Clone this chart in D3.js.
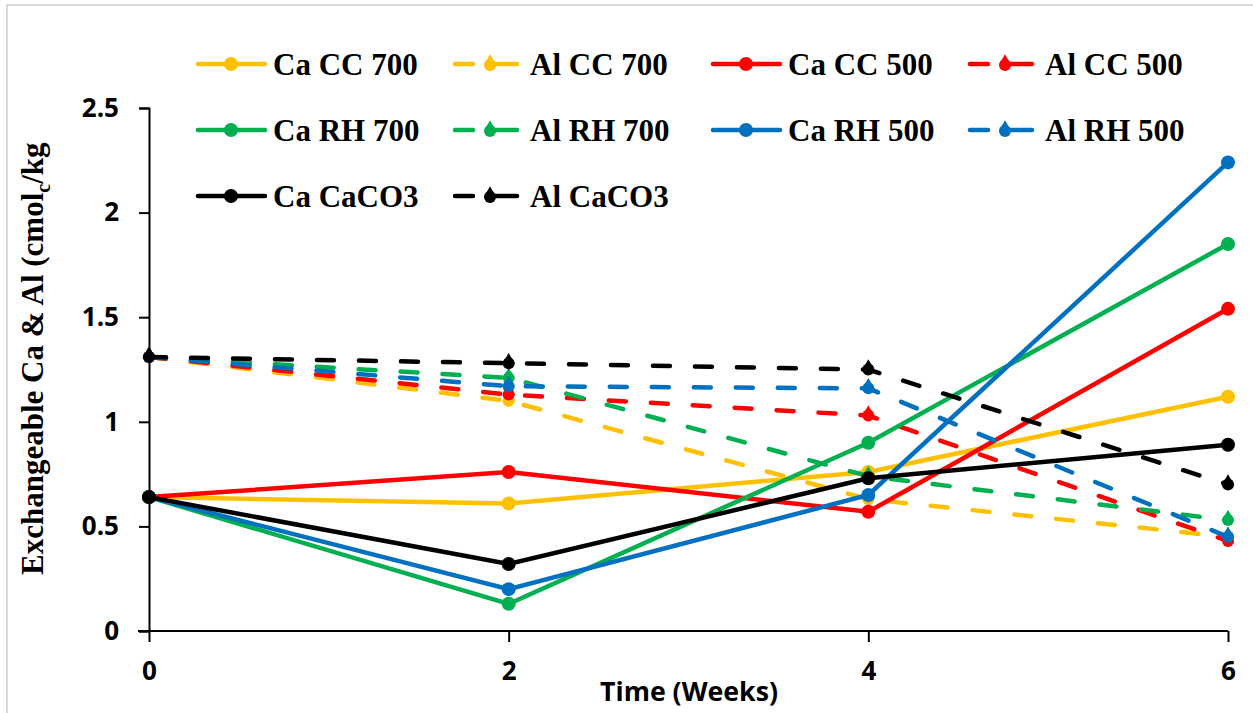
<!DOCTYPE html>
<html><head><meta charset="utf-8">
<script src="https://cdn.jsdelivr.net/npm/d3@7"></script>
<style>html,body{margin:0;padding:0;background:#fff;}svg{display:block;}</style>
</head><body>
<svg id="chart" width="1253" height="713"></svg>
<script>
const weeks = [0, 2, 4, 6];
const xTicks = [0, 2, 4, 6];
const yTicks = [0, 0.5, 1, 1.5, 2, 2.5];
const seriesNames = ["Ca CC 700","Al CC 700","Ca CC 500","Al CC 500","Ca RH 700","Al RH 700","Ca RH 500","Al RH 500","Ca CaCO3","Al CaCO3"];
const caCC700 = [0.64, 0.61, 0.76, 1.12];
const alCC700 = [1.31, 1.10, 0.63, 0.45];
const caCC500 = [0.64, 0.76, 0.57, 1.54];
const alCC500 = [1.31, 1.13, 1.03, 0.43];
const caRH700 = [0.64, 0.13, 0.90, 1.85];
const alRH700 = [1.31, 1.21, 0.74, 0.53];
const caRH500 = [0.64, 0.20, 0.65, 2.24];
const alRH500 = [1.31, 1.17, 1.16, 0.45];
const caCaCO3 = [0.64, 0.32, 0.73, 0.89];
const alCaCO3 = [1.31, 1.28, 1.25, 0.70];
const seriesValues = [caCC700, alCC700, caCC500, alCC500, caRH700, alRH700, caRH500, alRH500, caCaCO3, alCaCO3];
const seriesColors = ["#FFC000","#FFC000","#FF0000","#FF0000","#00B050","#00B050","#0070C0","#0070C0","#000000","#000000"];

const svg = d3.select("#chart");
svg.append("rect").attr("x",7).attr("y",5).attr("width",1260).attr("height",720)
  .attr("fill","#fff").attr("stroke","#d9d9d9").attr("stroke-width",2);

const x = d3.scaleLinear().domain([0,6]).range([149,1228]);
const y = d3.scaleLinear().domain([0,2.5]).range([631,108]);

const tickFont = "'Open Sans', Lato, sans-serif";
const yAxis = svg.append("g").attr("transform","translate(149,0)")
  .call(d3.axisLeft(y).tickValues(yTicks).tickSize(10).tickPadding(20).tickFormat(d=>d));
const xAxis = svg.append("g").attr("transform","translate(0,631)")
  .call(d3.axisBottom(x).tickValues(xTicks).tickSize(11).tickPadding(20).tickFormat(d=>d));
[yAxis, xAxis].forEach(g=>{
  g.select(".domain").attr("stroke","#000").attr("stroke-width",2);
  g.selectAll(".tick line").attr("stroke","#000").attr("stroke-width",2);
  g.selectAll(".tick text").attr("fill","#000").style("font-family",tickFont)
    .style("font-weight","700").style("font-size","26px");
});
xAxis.select(".domain").attr("d","M138,0H1228");

const line = d3.line().x((d,i)=>x(weeks[i])).y(d=>y(d));
seriesNames.forEach((name,si)=>{
  const isAl = name.startsWith("Al");
  const g = svg.append("g");
  g.append("path").datum(seriesValues[si]).attr("d",line)
    .attr("fill","none").attr("stroke",seriesColors[si]).attr("stroke-width",4.5)
    .attr("stroke-linecap","round")
    .attr("stroke-dasharray", isAl ? "17,25" : null);
  g.selectAll("circle").data(seriesValues[si]).join("circle")
    .attr("cx",(d,i)=>x(weeks[i])).attr("cy",d=>y(d))
    .attr("r", isAl ? 6 : 7).attr("fill",seriesColors[si]);
  if (isAl) {
    g.selectAll("path.tri").data(seriesValues[si]).join("path").attr("class","tri")
      .attr("d", d3.symbol().type(d3.symbolTriangle).size(70))
      .attr("transform",(d,i)=>`translate(${x(weeks[i])},${y(d)-3})`)
      .attr("fill",seriesColors[si]);
  }
});

const legCols = [196, 453, 711, 968];
const legRows = [64, 130, 196];
seriesNames.forEach((name,si)=>{
  const col = si % 4, row = Math.floor(si/4);
  const lx = legCols[col], ly = legRows[row];
  const isAl = name.startsWith("Al");
  const g = svg.append("g").attr("transform",`translate(${lx},${ly})`);
  if (isAl) {
    g.append("line").attr("x1",2).attr("x2",20).attr("y1",0).attr("y2",0)
      .attr("stroke",seriesColors[si]).attr("stroke-width",4.5).attr("stroke-linecap","round");
    g.append("line").attr("x1",34).attr("x2",64).attr("y1",0).attr("y2",0)
      .attr("stroke",seriesColors[si]).attr("stroke-width",4.5).attr("stroke-linecap","round");
    g.append("circle").attr("cx",37).attr("cy",1).attr("r",6).attr("fill",seriesColors[si]);
    g.append("path").attr("d",d3.symbol().type(d3.symbolTriangle).size(60))
      .attr("transform","translate(37,-3)").attr("fill",seriesColors[si]);
  } else {
    g.append("line").attr("x1",2).attr("x2",69).attr("y1",0).attr("y2",0)
      .attr("stroke",seriesColors[si]).attr("stroke-width",4.5).attr("stroke-linecap","round");
    g.append("circle").attr("cx",35).attr("cy",0).attr("r",7).attr("fill",seriesColors[si]);
  }
  g.append("text").attr("x", 77).attr("y",0).attr("dy","0.35em")
    .attr("font-family","'Liberation Serif', 'Times New Roman', serif").attr("font-weight","bold")
    .attr("font-size",31).attr("fill","#000").text(name);
});

svg.append("text").attr("x",689).attr("y",701).attr("text-anchor","middle")
  .style("font-family",tickFont).style("font-weight","700").style("font-size","27px")
  .attr("fill","#000").attr("textLength",178).attr("lengthAdjust","spacingAndGlyphs").text("Time (Weeks)");

const yt = svg.append("text").attr("transform","translate(43,575) rotate(-90)")
  .attr("font-family","'Liberation Serif', 'Times New Roman', serif").attr("font-weight","bold")
  .attr("font-size",31).attr("fill","#000");
yt.append("tspan").text("Exchangeable Ca & Al (cmol");
yt.append("tspan").attr("font-size",20).attr("dy",7).text("c");
yt.append("tspan").attr("dy",-7).text("/kg");
</script>
</body></html>
